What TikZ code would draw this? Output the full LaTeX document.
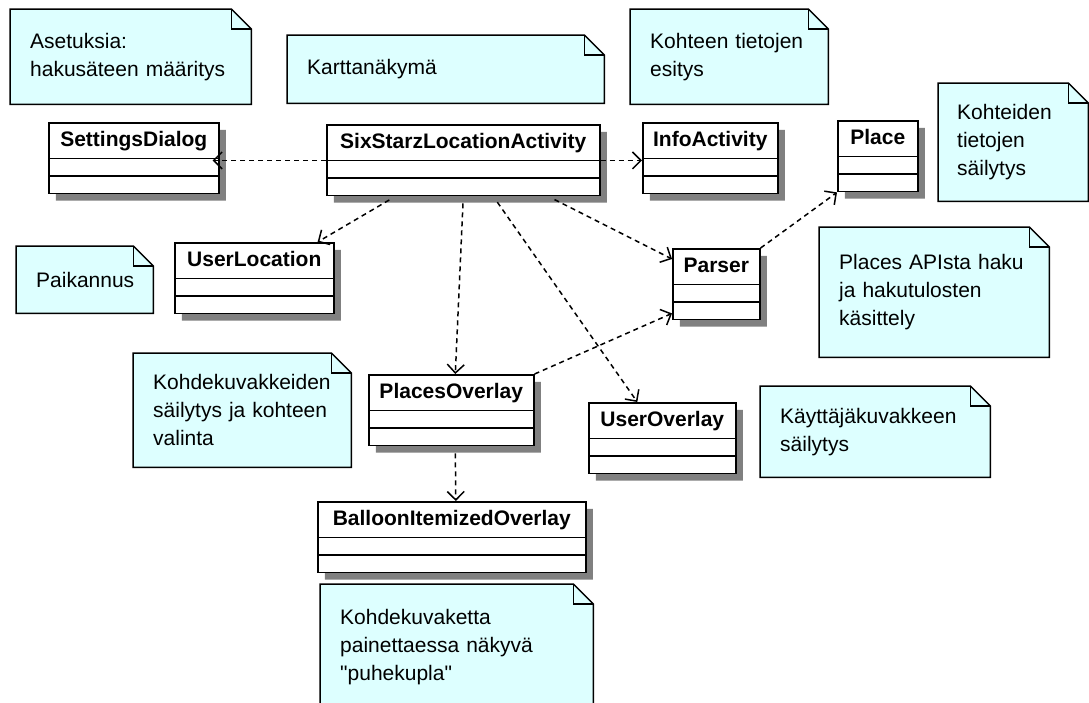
\documentclass[tikz,border=0pt]{standalone}
\usepackage{fontspec}
\setmainfont{Liberation Sans}[Ligatures=TeXOff]
\usetikzlibrary{arrows.meta,shapes.multipart,shadows,backgrounds}
\definecolor{notecyan}{RGB}{221,255,255}
\definecolor{shadowgray}{RGB}{128,128,128}
\begin{document}
\begin{tikzpicture}[x=1pt,y=-1pt,
    cls/.style={rectangle split, rectangle split parts=3, draw, line width=1.6pt,
      fill=white, anchor=north west, inner xsep=6pt, inner ysep=4pt,
      rectangle split empty part height=8pt, rectangle split empty part depth=0pt,
      font=\fontsize{21}{25}\selectfont\bfseries,
      execute at begin node={\rule[-7pt]{0pt}{26pt}},
      drop shadow={shadow xshift=7pt, shadow yshift=-7pt, fill=shadowgray, opacity=1}},
    note/.style={anchor=north west, inner xsep=20pt, inner ysep=0pt, align=left,
      font=\fontsize{21}{28}\selectfont},
    notebox/.style={fill=notecyan, draw, line width=1.5pt},
    dep/.style={line width=1.5pt, dash pattern=on 5pt off 4pt,
      -{Straight Barb[angle=90:12pt,line width=1.5pt]}}]
  \useasboundingbox (0,0) rectangle (1089,702);
  % notes
  \node[note, text width=201pt, minimum height=95pt] (asetus) at (10,9) {Asetuksia:\\hakusäteen määritys};
  \node[note, text width=277pt, minimum height=68pt] (kartta) at (287,35) {Karttanäkymä};
  \node[note, text width=158pt, minimum height=95pt] (infonote) at (630,9) {Kohteen tietojen\\esitys};
  \node[note, text width=112pt, minimum height=118pt, inner xsep=19pt] (placenote) at (938,83) {Kohteiden\\tietojen\\säilytys};
  \node[note, text width=190pt, minimum height=130pt] (parsernote) at (819,227) {Places APIsta haku\\ja hakutulosten\\käsittely};
  \node[note, text width=97pt, minimum height=67pt] (paikannus) at (16,246) {Paikannus};
  \node[note, text width=178pt, minimum height=114pt] (placesovnote) at (133,353) {Kohdekuvakkeiden\\säilytys ja kohteen\\valinta};
  \node[note, text width=190pt, minimum height=91pt] (userovnote) at (760,386) {Käyttäjäkuvakkeen\\säilytys};
  \node[note, text width=233pt, minimum height=126pt] (balloonnote) at (320,584) {Kohdekuvaketta\\painettaessa näkyvä\\"puhekupla"};
  \begin{scope}[on background layer]
    \foreach \n in {asetus,kartta,infonote,placenote,parsernote,paikannus,placesovnote,userovnote,balloonnote} {
      \draw[notebox] (\n.north west) -- ([xshift=-20pt]\n.north east)
        -- ([yshift=-20pt]\n.north east) -- (\n.south east) -- (\n.south west) -- cycle;
      \draw[line width=1.2pt] ([xshift=-20pt]\n.north east) |- ([yshift=-20pt]\n.north east);
    }
  \end{scope}
  % classes
  \node[cls, minimum width=170pt] (settings) at (48,122) {SettingsDialog};
  \node[cls, minimum width=273pt] (six) at (326,124) {SixStarzLocationActivity};
  \node[cls, minimum width=135pt] (info) at (642,122) {InfoActivity};
  \node[cls, minimum width=80pt] (place) at (837,120) {Place};
  \node[cls, minimum width=159pt] (userloc) at (174,242) {UserLocation};
  \node[cls, minimum width=87pt] (parser) at (672,248) {Parser};
  \node[cls, minimum width=165pt] (placesov) at (368,374) {PlacesOverlay};
  \node[cls, minimum width=147pt] (userov) at (588,402) {UserOverlay};
  \node[cls, minimum width=268pt] (balloon) at (317,501) {BalloonItemizedOverlay};
  % dependencies
  \draw[dep, shorten >=-7pt] (six.text split west) -- (settings.text split east |- six.text split west);
  \draw[dep] (six.text split east) -- (info.text split west |- six.text split east);
  \draw[dep, shorten <=7pt] ([xshift=-68pt]six.south) -- ([xshift=-17pt]userloc.north east);
  \draw[dep, shorten <=7pt] (six.south) -- ([xshift=4pt]placesov.north);
  \draw[dep, shorten <=7pt] ([xshift=30pt]six.south) -- ([xshift=-25pt]userov.north);
  \draw[dep, shorten <=7pt] ([xshift=85pt]six.south) -- ([yshift=-11pt]parser.north west);
  \draw[dep] (parser.north east) -- (place.south west);
  \draw[dep] (placesov.north east) -- ([yshift=7pt]parser.south west);
  \draw[dep, shorten <=7pt] ([xshift=4pt]placesov.south) -- ([xshift=4pt]balloon.north);
\end{tikzpicture}
\end{document}
